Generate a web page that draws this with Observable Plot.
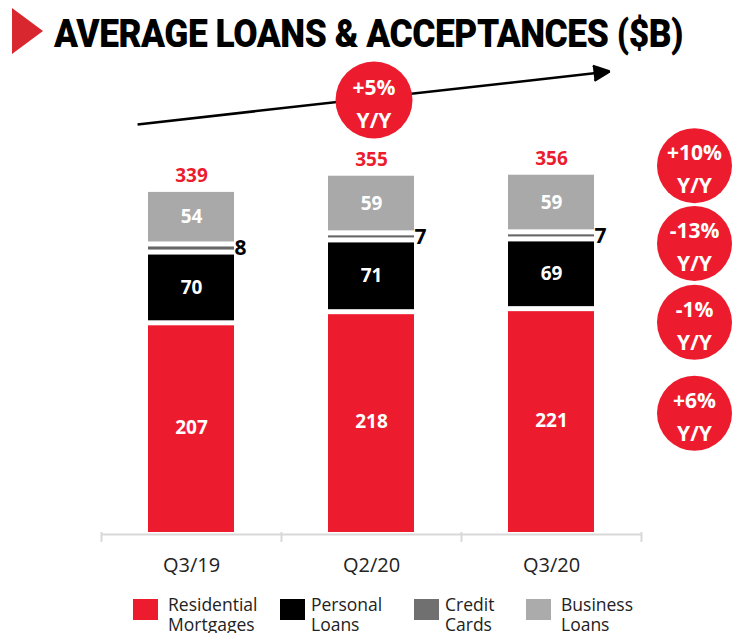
<!DOCTYPE html>
<html>
<head>
<meta charset="utf-8">
<script src="https://cdn.jsdelivr.net/npm/d3@7"></script>
<script src="https://cdn.jsdelivr.net/npm/@observablehq/plot@0.6"></script>
<style>
  html, body { margin: 0; padding: 0; background: #fff; }
  body { width: 732px; height: 633px; overflow: hidden; position: relative; font-family: "Open Sans", sans-serif; }
  #tri { position: absolute; left: 12px; top: 8px; width: 0; height: 0;
         border-top: 23.5px solid transparent; border-bottom: 23.5px solid transparent; border-left: 31px solid #d9272f; }
  #title { position: absolute; left: 54px; top: 15px; margin: 0; white-space: nowrap;
           font-family: Roboto, "Open Sans", sans-serif; font-weight: 900; font-size: 38px; line-height: 38px;
           color: #000; letter-spacing: -0.5px; transform-origin: 0 0; }
  #chart { position: absolute; left: 0; top: 56px; }
  .lg-sw { position: absolute; top: 599px; width: 25px; height: 21px; }
  .lg-tx { position: absolute; top: 595px; font-size: 17.5px; line-height: 19.5px; color: #222; white-space: nowrap; }
</style>
</head>
<body>
<div id="tri"></div>
<h1 id="title">AVERAGE LOANS &amp; ACCEPTANCES ($B)</h1>
<div id="chart"></div>
<div id="legend"></div>
<script>
// ---- data ----
const quarters = ["Q3/19", "Q2/20", "Q3/20"];
const seriesNames = ["Residential Mortgages", "Personal Loans", "Credit Cards", "Business Loans"];
const residential = [207, 218, 221];
const personal = [70, 71, 69];
const creditCards = [8, 7, 7];
const business = [54, 59, 59];
const totals = [339, 355, 356];
const seriesYoY = ["+6%", "-1%", "-13%", "+10%"];   // per series, same order as seriesNames
const totalYoY = "+5%";
const yoyText = "Y/Y";

// ---- styling ----
const red = "#ec1c2e";
const seriesColors = [red, "#000000", "#666666", "#a9a9a9"];
const legendColors = [red, "#000000", "#707070", "#ababab"];

// ---- annotation layout (in y-scale units) ----
const yoyCenters = [118, 208, 286, 363];
const totalBadgeY = 428;
const trendFrom = 409.8, trendTo = 449.7;

// ---- table for the stacked bars ----
const seriesValues = [residential, personal, creditCards, business];
const rows = [];
quarters.forEach((q, i) => {
  let base = 0;
  seriesValues.forEach((vals, s) => {
    rows.push({quarter: q, series: seriesNames[s], value: vals[i], y1: base, y2: base + vals[i]});
    base += vals[i];
  });
});
const yoyRows = seriesNames.map((s, i) => ({series: s, label: seriesYoY[i], y: yoyCenters[i]}));

const W = 732, H = 530, mL = 101, mR = 91;
const step = (W - mL - mR) / quarters.length;
const font = "'Open Sans', sans-serif";

const chart = Plot.plot({
  width: W, height: H,
  marginLeft: mL, marginRight: mR, marginTop: 0, marginBottom: 54,
  x: {domain: quarters, paddingInner: 0.52, paddingOuter: 0.26, label: null},
  y: {domain: [0, 471], axis: null},
  color: {domain: seriesNames, range: seriesColors},
  style: {fontFamily: font, background: "white", overflow: "visible"},
  marks: [
    Plot.barY(rows.filter(d => d.series === seriesNames[0]), {x: "quarter", y1: "y1", y2: "y2", fill: "series", insetTop: 2.5}),
    Plot.barY(rows.filter(d => d.series !== seriesNames[0]), {x: "quarter", y1: "y1", y2: "y2", fill: "series", insetTop: 2.5, insetBottom: 2.5}),
    Plot.ruleY([0], {stroke: "#d9d9d9", strokeWidth: 2, dy: 2}),
    Plot.ruleX(quarters, {x: d => d, dx: -step / 2, y1: 0, y2: 0, insetBottom: -10, stroke: "#d9d9d9", strokeWidth: 2}),
    Plot.ruleX([quarters[quarters.length - 1]], {x: d => d, dx: step / 2, y1: 0, y2: 0, insetBottom: -10, stroke: "#d9d9d9", strokeWidth: 2}),
    Plot.axisX({tickSize: 0, tickPadding: 25, fontSize: 20, fill: "#222", fontFamily: font, label: null}),
    // segment values
    Plot.text(rows.filter(d => d.series !== "Credit Cards"), {
      x: "quarter", y: d => (d.y1 + d.y2) / 2, text: d => String(d.value),
      fill: "white", fontWeight: 700, fontSize: 19, fontFamily: font
    }),
    Plot.text(rows.filter(d => d.series === "Credit Cards"), {
      x: "quarter", y: d => (d.y1 + d.y2) / 2, text: d => String(d.value),
      dx: 49, fill: "black", fontWeight: 700, fontSize: 21, fontFamily: font
    }),
    // totals
    Plot.text(quarters, {
      x: d => d, y: (d, i) => totals[i], text: (d, i) => String(totals[i]),
      dy: -14, fill: red, fontWeight: 700, fontSize: 19, fontFamily: font
    }),
    // trend arrow & total badge
    Plot.arrow([0], {
      x1: () => quarters[0], y1: () => trendFrom, x2: () => quarters[2], y2: () => trendTo,
      insetStart: -54.3, insetEnd: -58.4, stroke: "black", fill: "black",
      strokeWidth: 2.5, headLength: 10.6, headAngle: 50, strokeLinecap: "butt"
    }),
    Plot.dot([totalYoY], {x: () => quarters[1], y: () => totalBadgeY, dx: 2.5, r: 38.5, fill: red, stroke: null}),
    Plot.text([totalYoY], {x: () => quarters[1], y: () => totalBadgeY, dx: 2.5, dy: -12, text: d => d, fill: "white", fontWeight: 700, fontSize: 21, fontFamily: font}),
    Plot.text([yoyText], {x: () => quarters[1], y: () => totalBadgeY, dx: 2.5, dy: 21, text: d => d, fill: "white", fontWeight: 700, fontSize: 21, fontFamily: font}),
    // per-series YoY badges
    Plot.dot(yoyRows, {frameAnchor: "right", dx: 53, y: "y", r: 37.5, fill: red, stroke: null}),
    Plot.text(yoyRows, {frameAnchor: "right", textAnchor: "middle", dx: 53, y: "y", dy: -12, text: "label", fill: "white", fontWeight: 700, fontSize: 21, fontFamily: font}),
    Plot.text(yoyRows, {frameAnchor: "right", textAnchor: "middle", dx: 53, y: "y", dy: 21, text: () => yoyText, fill: "white", fontWeight: 700, fontSize: 21, fontFamily: font})
  ]
});
document.getElementById("chart").appendChild(chart);

// ---- title fit ----
const title = document.getElementById("title");
const tw = title.getBoundingClientRect().width;
title.style.transform = `scaleX(${629 / tw})`;

// ---- legend ----
const swLeft = [133, 280, 414, 526];
const txLeft = [168, 311, 445, 561];
const legend = document.getElementById("legend");
seriesNames.forEach((name, i) => {
  const sw = document.createElement("div");
  sw.className = "lg-sw";
  sw.style.left = swLeft[i] + "px";
  sw.style.background = legendColors[i];
  legend.appendChild(sw);
  const tx = document.createElement("div");
  tx.className = "lg-tx";
  tx.style.left = txLeft[i] + "px";
  const parts = name.split(" ");
  tx.innerHTML = parts[0] + "<br>" + parts.slice(1).join(" ");
  legend.appendChild(tx);
});
</script>
</body>
</html>
